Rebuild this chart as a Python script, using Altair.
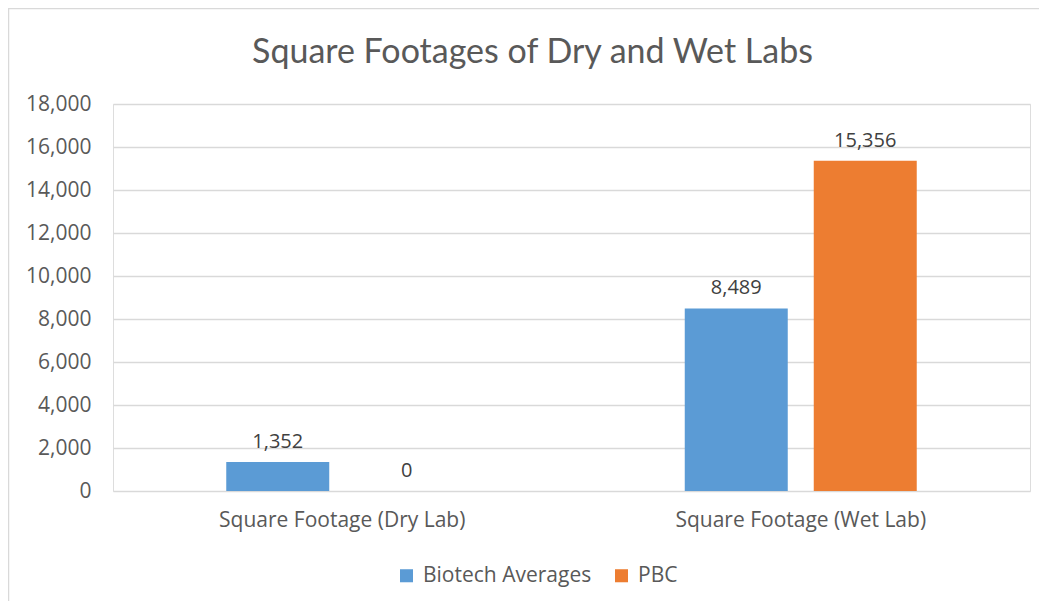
import altair as alt
import pandas as pd

categories = ["Square Footage (Dry Lab)", "Square Footage (Wet Lab)"]
series = ["Biotech Averages", "PBC"]
biotech_values = [1352, 8489]
pbc_values = [0, 15356]
y_ticks = [0, 2000, 4000, 6000, 8000, 10000, 12000, 14000, 16000, 18000]
colors = ["#5B9BD5", "#ED7D31"]

rows = []
for i, c in enumerate(categories):
    rows.append({"category": c, "series": series[0], "value": biotech_values[i]})
    rows.append({"category": c, "series": series[1], "value": pbc_values[i]})
df = pd.DataFrame(rows)

FONT = "Open Sans"
TFONT = "Lato"
GREY = "#595959"
LS = 21

x_enc = alt.X("category:N", sort=categories,
              scale=alt.Scale(paddingInner=0, paddingOuter=0),
              axis=alt.Axis(title=None, labelAngle=0, labelFontSize=LS, labelColor=GREY,
                            labelFont=FONT, labelPadding=18, ticks=False, domain=False,
                            labelLimit=0))
xoff_enc = alt.XOffset("series:N", sort=series,
                       scale=alt.Scale(paddingInner=0.2016, paddingOuter=0.878))
y_enc = alt.Y("value:Q",
              scale=alt.Scale(domain=[0, 18000], nice=False),
              axis=alt.Axis(title=None, values=y_ticks, format=",.0f", labelFontSize=LS,
                            labelColor=GREY, labelFont=FONT, labelPadding=22, ticks=False,
                            domain=False, gridColor="#D9D9D9", gridWidth=1.3))

bars = alt.Chart(df).mark_bar().encode(
    x=x_enc, xOffset=xoff_enc, y=y_enc,
    color=alt.Color("series:N", sort=series,
                    scale=alt.Scale(domain=series, range=colors),
                    legend=alt.Legend(title=None, orient="none", legendX=283, legendY=461,
                                      direction="horizontal", symbolType="square",
                                      symbolSize=170, symbolStrokeWidth=0,
                                      labelFontSize=LS, labelColor=GREY, labelFont=FONT,
                                      labelLimit=0, columnPadding=19, labelOffset=6)),
)

labels = alt.Chart(df).mark_text(baseline="bottom", dy=-10, fontSize=20, color="#404040",
                                 font=FONT).encode(
    x=alt.X("category:N", sort=categories), xOffset=alt.XOffset("series:N", sort=series),
    y="value:Q", text=alt.Text("value:Q", format=",.0f"),
)

border = alt.Chart(pd.DataFrame({"b": [0]})).mark_rect(
    fill="transparent", stroke="#D9D9D9", strokeWidth=1.5).encode(
    x=alt.value(-104.5), y=alt.value(-95.5), x2=alt.value(1200), y2=alt.value(800))

chart = alt.layer(border, bars, labels).properties(
    width=917, height=387,
    padding={"left": 105, "top": 96, "right": 9, "bottom": 110},
    autosize=alt.AutoSizeParams(type="none"),
    title=alt.TitleParams("Square Footages of Dry and Wet Labs", fontSize=34, font=TFONT,
                          color=GREY, fontWeight="normal", anchor="middle", frame="group",
                          offset=-62, dx=-39),
).configure_view(stroke=None).configure(background="white")

chart.save("out.html", embed_options={"renderer": "svg", "actions": False})
